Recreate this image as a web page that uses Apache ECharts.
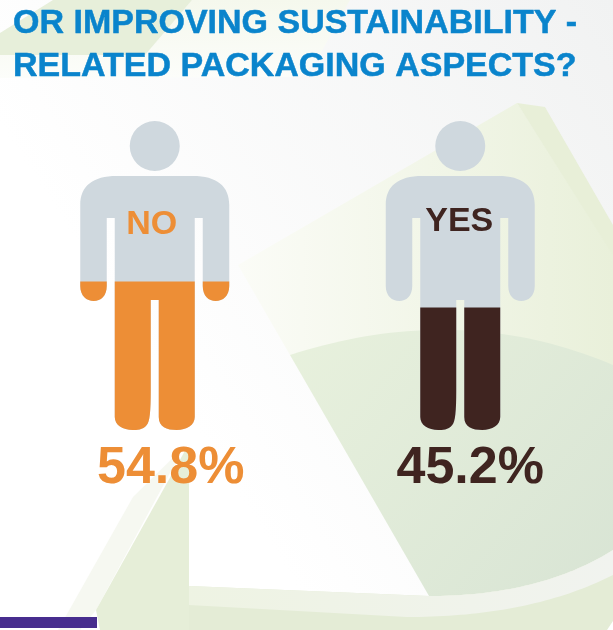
<!DOCTYPE html>
<html>
<head>
<meta charset="utf-8">
<style>html,body{margin:0;padding:0;background:#fff}#c{width:613px;height:630px}</style>
<script src="https://cdn.jsdelivr.net/npm/echarts@6/dist/echarts.min.js"></script>
</head>
<body>
<div id="c"></div>
<script>
const categories = ['NO', 'YES'];
const shares = [54.8, 45.2];
const fullScale = [114, 114];
const fillColors = ['#ed8e36', '#3f2420'];
const titleLines = ['OR IMPROVING SUSTAINABILITY -', 'RELATED PACKAGING ASPECTS?'];

const person = 'path://M0 0A25 25 0 1 1 0 50A25 25 0 1 1 0 0Z' +
  'M-38 55L38 55C62 55 74.5 65 74.5 84L74.5 165C74.5 175 68 180 61 180C54 180 48 175 48 165L48 97L40 97' +
  'L40 296C40 304 32 309 22 309C12 309 4 306 4 296L4 179L-4 179L-4 270C-4 290 -5 301 -8 304C-12 309 -18 309 -22 309' +
  'C-32 309 -40 304 -40 296L-40 97L-48 97L-48 165C-48 175 -54 180 -61 180C-68 180 -74.5 175 -74.5 165' +
  'L-74.5 84C-74.5 65 -62 55 -38 55Z';

const lin = (x, y, x2, y2, a, b) => ({type: 'linear', x, y, x2, y2, colorStops: [{offset: 0, color: a}, {offset: 1, color: b}]});
const poly = (points, fill) => ({type: 'polygon', z: 0, silent: true, shape: {points}, style: {fill}});
// quadratic curve outline for the decorative backdrop only
const curve = (p0, c, p1) => {
  const pts = [];
  for (let i = 0; i <= 40; i++) {
    const t = i / 40, u = 1 - t;
    pts.push([u * u * p0[0] + 2 * u * t * c[0] + t * t * p1[0], u * u * p0[1] + 2 * u * t * c[1] + t * t * p1[1]]);
  }
  return pts;
};
const upperArc = curve([290, 355], [460, 300], [613, 365]);
const lowerArc = curve([429, 596], [540, 596], [613, 550]);
const bandArc = curve([613, 575], [530, 617], [407, 617]);

const backdrop = [
  {type: 'rect', z: 0, silent: true, shape: {x: 0, y: 0, width: 613, height: 630}, style: {fill: lin(0.2, 0.5, 1, 0, '#ffffff', '#f1f2f2')}},
  poly([[192, 0], [350, 0], [318, 58], [300, 77], [0, 78], [0, 55], [145, 55]], lin(0, 0, 0, 1, '#f5f8ed', '#fcfdfa')),
  poly([[0, 55], [0, 33], [53, 0], [192, 0], [145, 55]], '#e7efda'),
  poly([[238, 265], [517, 103], [613, 250], [613, 370], [290, 355]], lin(0, 0.6, 1, 0.6, '#fbfcf7', '#e9f0da')),
  poly([[517, 103], [545, 107], [613, 225], [613, 255]], '#e8efd8'),
  poly(upperArc.concat(lowerArc.slice().reverse()), lin(0, 0, 1, 1, '#e8f1dd', '#d8e4d4')),
  poly([[184, 447], [96, 610], [80, 630], [58, 630], [133, 497]], '#f6f8f1'),
  poly([[186, 449], [189, 452], [189, 630], [100, 630], [96, 610]], '#e6eed8'),
  poly([[189, 586]].concat(lowerArc, [[613, 630], [189, 630]]), '#e4ecd6'),
  poly([[189, 586]].concat(lowerArc, bandArc, [[189, 605]]), lin(0, 0, 1, 0, '#eef3e3', '#f1f3ef')),
  poly([[613, 621], [613, 630], [607, 630]], '#ffffff'),
  {type: 'rect', z: 1, silent: true, shape: {x: 0, y: 617, width: 97, height: 11}, style: {fill: '#472d8e'}}
];

const nameOffsets = [[-3, 4], [-1, 4]];
const shareOffsets = [[16, 0], [10, 0]];

const chart = echarts.init(document.getElementById('c'), null, {renderer: 'canvas'});
chart.setOption({
  animation: false,
  graphic: {elements: backdrop},
  title: {
    text: titleLines.join('\n'), left: 8, top: -3,
    textStyle: {color: '#0a84cc', fontFamily: 'Liberation Sans', fontWeight: 'bold', fontSize: 34, lineHeight: 43,
      textBorderColor: '#0a84cc', textBorderWidth: 0.5}
  },
  grid: {left: 2, right: -1, top: 121, bottom: 200},
  xAxis: {type: 'category', data: categories, show: false},
  yAxis: {type: 'value', min: 0, max: 114, show: false},
  series: [
    {
      type: 'pictorialBar', name: 'figure', barGap: '-100%', barWidth: 149,
      symbol: person, symbolSize: [149, 309], symbolPosition: 'start', symbolBoundingData: 114,
      itemStyle: {color: '#cfd8de'},
      data: fullScale.map((v, i) => ({
        value: v,
        label: {
          show: true, position: 'insideTop', distance: i === 0 ? 83 : 80, offset: nameOffsets[i], formatter: '{b}',
          color: fillColors[i], fontFamily: 'Liberation Sans', fontWeight: 'bold', fontSize: 34
        }
      }))
    },
    {
      type: 'pictorialBar', name: 'share', barGap: '-100%', barWidth: 149,
      symbol: person, symbolSize: [149, 309], symbolPosition: 'start', symbolBoundingData: 114, symbolClip: true,
      data: shares.map((v, i) => ({
        value: v,
        itemStyle: {color: fillColors[i]},
        label: {
          show: true, position: 'bottom', distance: 13, offset: shareOffsets[i], formatter: '{c}%',
          color: fillColors[i], fontFamily: 'Liberation Sans', fontWeight: 'bold', fontSize: 52
        }
      }))
    }
  ]
});
</script>
</body>
</html>
